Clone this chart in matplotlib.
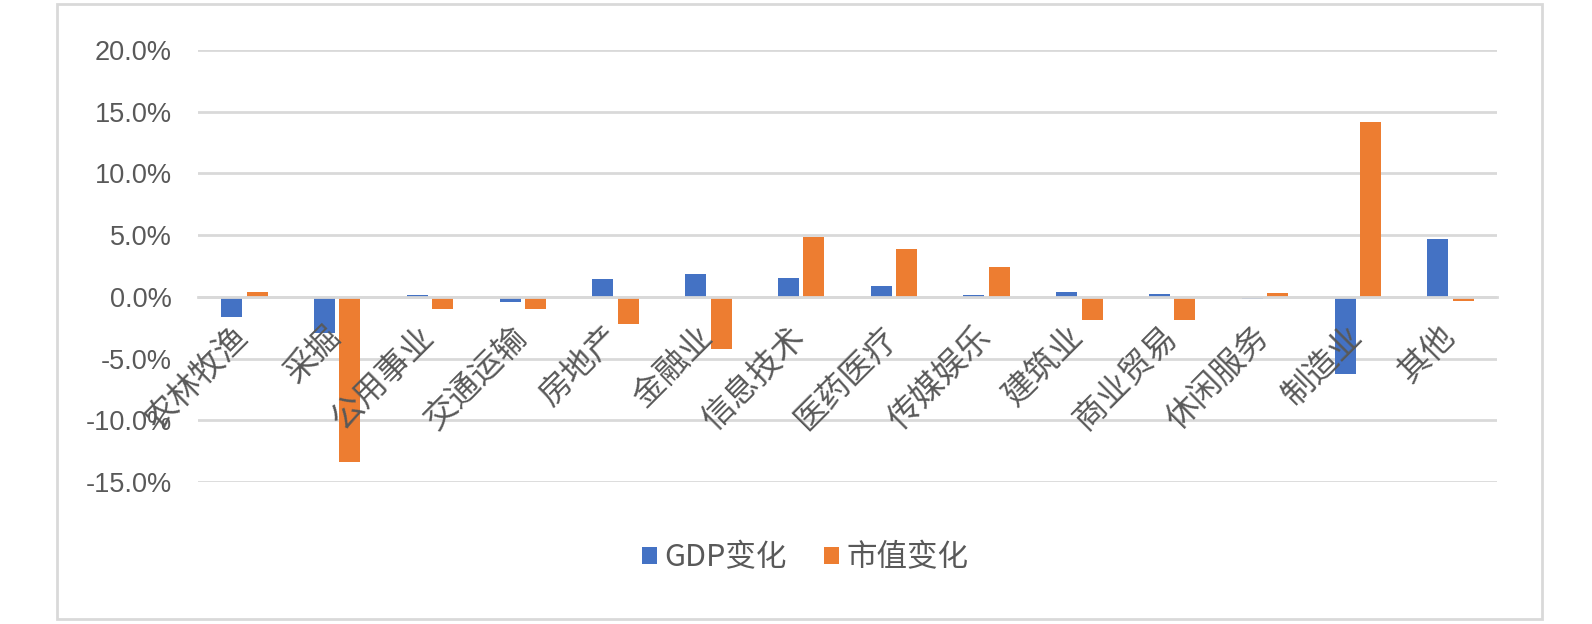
import matplotlib
matplotlib.use("Agg")
import matplotlib.pyplot as plt
import numpy as np
from matplotlib.patches import Rectangle
from matplotlib.ticker import FuncFormatter

plt.rcParams['font.family'] = ['Noto Sans CJK SC', 'DejaVu Sans']

# data (percent)
categories = ['农林牧渔', '采掘', '公用事业', '交通运输', '房地产', '金融业', '信息技术',
              '医药医疗', '传媒娱乐', '建筑业', '商业贸易', '休闲服务', '制造业', '其他']
gdp_change = [-1.6, -2.9, 0.15, -0.4, 1.45, 1.85, 1.55, 0.92, 0.15, 0.38, 0.25, -0.15, -6.25, 4.72]
mv_change = [0.4, -13.4, -1.0, -1.0, -2.2, -4.22, 4.83, 3.86, 2.4, -1.87, -1.9, 0.33, 14.2, -0.36]
series_names = ['GDP变化', '市值变化']
y_ticks = [-15, -10, -5, 0, 5, 10, 15, 20]

blue = '#4472C4'
orange = '#ED7D31'
text_gray = '#595959'
grid_gray = '#D9D9D9'

fig = plt.figure(figsize=(15.92, 6.24), dpi=100)
ax = fig.add_axes([198/1592, 1 - 482/624, (1497 - 198)/1592, (482 - 50)/624])

x = np.arange(len(categories))
w = 0.226
b1 = ax.bar(x - 0.137, gdp_change, w, color=blue, label=series_names[0], zorder=1)
b2 = ax.bar(x + 0.137, mv_change, w, color=orange, label=series_names[1], zorder=1)

ax.set_xlim(-0.5, len(categories) - 0.5)
ax.set_ylim(-15, 20)
ax.set_yticks(y_ticks)
ax.yaxis.set_major_formatter(FuncFormatter(lambda v, p: f"{v:.1f}%".replace('\u2212', '-')))
for lab in ax.get_yticklabels():
    lab.set_family('Liberation Sans')
ax.tick_params(axis='y', length=0, pad=19, labelsize=19.5, labelcolor=text_gray)
ax.grid(axis='y', color=grid_gray, linewidth=2)
ax.set_axisbelow(True)

# category axis sits at zero, labels over bars
for s in ['top', 'right', 'left']:
    ax.spines[s].set_visible(False)
ax.spines['bottom'].set_position(('data', 0))
ax.spines['bottom'].set_color(grid_gray)
ax.spines['bottom'].set_linewidth(2)
ax.xaxis.set_zorder(3)
ax.set_xticks(x - 0.13)
ax.set_xticklabels(categories, rotation=45, ha='right', va='top', rotation_mode='anchor')
ax.tick_params(axis='x', length=0, pad=17, labelsize=23.5, labelcolor=text_gray)

leg = fig.legend(handles=[b1, b2], loc='center', bbox_to_anchor=(805/1592, 1 - 558/624),
                 ncol=2, frameon=False, fontsize=22, handlelength=0.5, handleheight=0.5,
                 handletextpad=0.25, columnspacing=1.2)
for t in leg.get_texts():
    t.set_color(text_gray)

# chart border
fig.patches.append(Rectangle((57/1592, 1 - 619/624), (1542 - 57)/1592, (619 - 4)/624,
                             transform=fig.transFigure, fill=False, edgecolor=grid_gray, linewidth=2))

fig.savefig('out.png', dpi=100)
